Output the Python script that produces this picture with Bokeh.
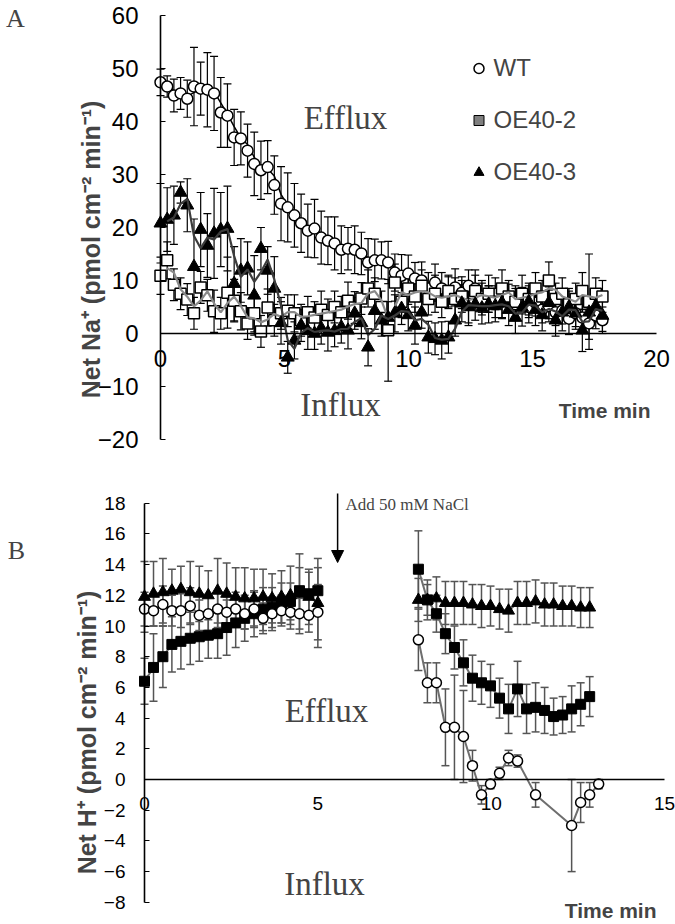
import numpy as np
from bokeh.plotting import figure
from bokeh.models import (ColumnDataSource, Range1d, FixedTicker, Whisker, TeeHead,
                          Label, Legend, LegendItem, Arrow, NormalHead)
from bokeh.layouts import column
from bokeh.embed import file_html
from bokeh.resources import INLINE

# ---------------- Panel A data (Net Na+ flux) ----------------
time_a = [0.00, 0.27, 0.54, 0.81, 1.08, 1.35, 1.62, 1.89, 2.16, 2.43, 2.70, 2.97, 3.24, 3.51,
          3.78, 4.05, 4.32, 4.59, 4.86, 5.13, 5.40, 5.67, 5.94, 6.21, 6.48, 6.75, 7.02, 7.29,
          7.56, 7.83, 8.10, 8.37, 8.64, 8.91, 9.18, 9.45, 9.72, 9.99, 10.26, 10.53, 10.80,
          11.07, 11.34, 11.61, 11.88, 12.15, 12.42, 12.69, 12.96, 13.23, 13.50, 13.77, 14.04,
          14.31, 14.58, 14.85, 15.12, 15.39, 15.66, 15.93, 16.20, 16.47, 16.74, 17.01, 17.28,
          17.55, 17.82]
wt_a = [47.4, 46.6, 44.9, 45.3, 44.3, 46.6, 46.2, 46.0, 45.3, 41.7,
        41.1, 37.0, 36.8, 34.5, 32.0, 30.8, 31.4, 28.0, 24.5, 23.8,
        22.3, 20.8, 19.4, 19.8, 18.1, 17.5, 17.0, 15.8, 16.0, 15.8,
        15.1, 13.4, 13.8, 13.8, 13.4, 11.5, 10.9, 11.3, 10.4, 10.0,
        8.5, 9.6, 8.5, 7.7, 8.7, 7.7, 9.0, 8.5, 7.0, 6.5,
        7.5, 6.0, 6.8, 5.5, 6.2, 5.0, 5.8, 4.5, 5.2, 4.0,
        4.3, 2.8, 3.8, 3.0, 1.9, 3.4, 2.5]
wt_a_err = [2.5, 2.0, 3.1, 3.0, 3.5, 7.4, 5.0, 7.0, 7.0, 6.6,
            6.0, 5.3, 5.0, 5.0, 6.0, 5.5, 5.0, 5.5, 7.0, 6.5,
            6.0, 5.5, 5.0, 5.5, 5.0, 4.5, 5.0, 4.5, 4.0, 4.5,
            4.0, 4.5, 4.0, 3.5, 4.0, 3.5, 4.0, 3.5, 3.0, 3.5,
            3.0, 3.5, 3.0, 3.0, 3.5, 3.0, 3.0, 3.5, 3.0, 2.5,
            3.0, 3.0, 2.5, 3.0, 2.5, 3.0, 2.5, 2.5, 3.0, 2.5,
            2.5, 3.0, 2.5, 2.5, 3.0, 2.5, 2.5]
oe2_a = [10.9, 13.8, 9.2, 7.5, 6.4, 3.8, 8.7, 7.2, 4.2, 3.8,
         7.7, 6.2, 4.2, 1.9, 3.8, 0.4, 4.9, 2.5, 3.8, 4.3,
         3.8, 2.5, 4.0, 3.0, 4.5, 3.5, 5.0, 4.0, 6.2, 4.9,
         6.6, 8.5, 7.5, 5.0, 0.6, 9.6, 6.0, 8.5, 7.0, 9.0,
         6.5, 7.5, 6.0, 8.0, 6.5, 7.0, 5.5, 8.0, 6.5, 7.5,
         6.0, 8.5, 7.0, 6.0, 7.5, 6.5, 8.5, 7.0, 10.0, 6.5,
         7.5, 5.5, 6.5, 8.0, 6.0, 7.5, 7.0]
oe2_a_err = [3.5, 3.5, 3.0, 3.0, 3.0, 3.0, 3.0, 3.0, 4.0, 3.0,
             6.7, 4.0, 3.5, 3.0, 3.5, 3.0, 3.5, 3.0, 3.0, 3.0,
             3.5, 3.0, 3.0, 3.0, 3.5, 3.0, 3.0, 3.0, 3.5, 3.0,
             3.0, 3.5, 3.0, 3.0, 9.6, 3.5, 3.0, 3.0, 3.0, 3.0,
             3.0, 3.5, 3.0, 3.0, 4.0, 3.0, 4.0, 3.0, 3.0, 3.5,
             3.0, 3.5, 3.0, 3.0, 3.5, 3.0, 3.0, 3.0, 3.5, 3.0,
             3.0, 3.0, 3.0, 3.5, 9.0, 3.0, 3.0]
oe3_a = [20.8, 21.5, 22.3, 26.6, 24.2, 12.6, 19.6, 16.6, 18.9, 19.6,
         19.8, 9.4, 11.9, 12.3, 7.2, 16.0, 11.9, 8.5, 2.0, -4.5,
         -1.3, 1.5, 0.5, 0.0, 1.0, 0.2, 0.5, 1.2, 0.6, 3.8,
         2.0, -2.6, 4.3, 2.5, 3.0, 3.8, 4.7, 3.5, 1.5, 4.0,
         -0.7, -1.0, -1.3, -0.7, 2.5, 5.7, 5.0, 5.5, 4.8, 5.5,
         5.2, 5.8, 4.5, 3.0, 4.9, 6.0, 4.5, 3.5, 5.8, 2.5,
         4.0, 5.0, 3.8, 0.6, 4.0, 5.2, 3.4]
oe3_a_err = [7.5, 6.0, 5.5, 2.0, 5.0, 9.0, 7.0, 6.0, 8.5, 7.0,
             8.0, 7.0, 6.0, 5.0, 7.5, 4.0, 4.5, 6.0, 4.0, 3.0,
             3.5, 3.0, 3.5, 3.0, 3.0, 3.5, 3.0, 3.0, 3.5, 3.0,
             3.0, 3.5, 3.5, 3.0, 3.0, 3.5, 3.0, 3.0, 3.5, 3.0,
             3.0, 3.0, 3.5, 3.0, 3.0, 3.5, 3.0, 3.0, 3.0, 3.5,
             3.0, 3.0, 3.0, 3.0, 3.5, 3.0, 3.0, 3.0, 3.0, 3.0,
             3.5, 3.0, 3.0, 4.0, 3.0, 3.0, 3.0]
a_xticks = [0, 5, 10, 15, 20]
a_yticks = [-20, -10, 0, 10, 20, 30, 40, 50, 60]
series_names = ["WT", "OE40-2", "OE40-3"]

# ---------------- Panel B data (Net H+ flux) ----------------
time_b_pre = [0.0, 0.26, 0.53, 0.79, 1.05, 1.32, 1.58, 1.84, 2.11, 2.37,
              2.63, 2.89, 3.16, 3.42, 3.68, 3.95, 4.21, 4.47, 4.74, 5.0]
wt_b_pre = [11.1, 11.0, 11.4, 11.0, 11.0, 11.3, 10.7, 10.8, 11.1, 10.9,
            11.1, 10.8, 11.1, 10.5, 10.8, 11.0, 10.9, 10.8, 10.7, 10.9]
wt_b_pre_err = [1.1, 1.0, 1.2, 1.0, 1.1, 1.2, 1.0, 1.1, 1.2, 1.0,
                1.1, 1.0, 1.1, 1.0, 1.1, 1.0, 1.1, 1.0, 1.1, 1.8]
oe2_b_pre = [6.4, 7.3, 8.0, 8.8, 9.0, 9.2, 9.3, 9.4, 9.5, 9.9,
             10.2, 10.5, 10.8, 11.1, 11.2, 11.5, 11.6, 12.3, 12.1, 12.3]
oe2_b_pre_err = [1.5, 2.2, 2.0, 1.8, 1.8, 1.7, 1.6, 1.5, 1.6, 1.8,
                 1.6, 1.5, 1.5, 1.4, 1.3, 1.3, 1.2, 1.5, 1.4, 1.5]
oe3_b_pre = [11.9, 12.1, 12.2, 12.3, 12.4, 12.2, 12.1, 12.0, 12.3, 12.1,
             11.9, 11.8, 11.8, 11.9, 11.8, 11.9, 12.0, 12.1, 11.9, 11.5]
oe3_b_pre_err = [2.3, 2.1, 2.2, 1.4, 1.5, 2.0, 1.8, 1.6, 2.1, 2.0,
                 1.9, 2.0, 1.9, 1.8, 1.6, 1.7, 1.9, 2.6, 1.8, 2.9]
time_b_post = [7.90, 8.16, 8.42, 8.68, 8.94, 9.20, 9.46, 9.72, 9.98, 10.24,
               10.50, 10.76, 11.02, 11.28, 11.54, 11.80, 12.06, 12.32, 12.58, 12.84]
oe2_b_post = [13.7, 11.7, 10.8, 9.5, 8.6, 7.6, 6.6, 6.3, 6.1, 5.3,
              4.6, 5.9, 4.6, 4.7, 4.5, 4.1, 4.2, 4.6, 4.9, 5.4]
oe2_b_post_err = [2.5, 1.0, 1.2, 1.3, 1.4, 1.5, 1.5, 1.4, 1.4, 1.3,
                  1.6, 1.8, 1.6, 1.6, 1.5, 1.2, 1.2, 1.5, 1.4, 1.3]
oe3_b_post = [11.7, 11.7, 11.8, 11.5, 11.5, 11.5, 11.4, 11.3, 11.3, 11.1,
              11.0, 11.5, 11.5, 11.6, 11.4, 11.4, 11.3, 11.3, 11.2, 11.2]
oe3_b_post_err = [1.4, 1.3, 1.4, 1.4, 1.4, 1.4, 1.3, 1.4, 1.3, 1.3,
                  1.4, 1.4, 1.4, 1.4, 1.4, 1.4, 1.3, 1.3, 1.3, 1.3]
time_b_wt_post = [7.90, 8.16, 8.42, 8.68, 8.94, 9.20, 9.46, 9.72, 9.98, 10.24,
                  10.50, 10.76, 11.28, 12.32, 12.58, 12.84, 13.10]
wt_b_post = [9.1, 6.3, 6.3, 3.4, 3.4, 2.8, 0.9, -1.0, -0.3, 0.4,
             1.4, 1.2, -1.0, -3.0, -1.5, -1.0, -0.3]
wt_b_post_err = [2.0, 1.3, 1.3, 2.5, 3.4, 3.0, 1.0, 0.6, 0.3, 0.4,
                 0.5, 0.4, 0.8, 3.0, 1.3, 0.8, 0.3]
b_xticks = [0, 5, 10, 15]
b_yticks = [-8, -6, -4, -2, 0, 2, 4, 6, 8, 10, 12, 14, 16, 18]
salt_time = 5.57
salt_text = "Add 50 mM NaCl"

# ---------------- layout constants (page pixels) ----------------
SANS = "Liberation Sans"
SERIF = "Liberation Serif"
NARROW = "'Liberation Sans Narrow', 'Liberation Sans'"
W = 675
HA, HB = 458, 466
LEFT = 0            # page x of the canvas left edge
TOP_A = 0
TOP_B = HA
AX0, AXS, AY0, AYS = 160.0, 24.8, 333.0, 5.3
BX0, BXS, BY0, BYS = 144.0, 34.67, 779.0, 15.35


def make_fig(h, top, x0, xs, y0, ys):
    xr = Range1d((LEFT - x0) / xs, (LEFT + W - x0) / xs)
    yr = Range1d((y0 - (top + h)) / ys, (y0 - top) / ys)
    p = figure(width=W, height=h, x_range=xr, y_range=yr, output_backend="svg",
               toolbar_location=None, min_border=0)
    p.min_border_left = p.min_border_right = p.min_border_top = p.min_border_bottom = 0
    p.outline_line_color = None
    p.grid.visible = False
    p.background_fill_color = "white"
    p.border_fill_color = "white"
    return p


def style_axes(p, xt, yt, fs, xstand, ystand, lw):
    xa = p.xaxis[0]
    ya = p.yaxis[0]
    xa.fixed_location = 0
    ya.fixed_location = 0
    xa.bounds = (min(xt), max(xt))
    ya.bounds = (min(yt), max(yt))
    xa.ticker = FixedTicker(ticks=xt)
    ya.ticker = FixedTicker(ticks=yt)
    for axx in (xa, ya):
        axx.axis_line_color = "black"
        axx.axis_line_width = lw
        axx.minor_tick_line_color = None
        axx.major_label_text_font = SANS
        axx.major_label_text_font_size = fs
        axx.major_label_text_color = "black"
        axx.major_tick_out = 0
    xa.major_tick_line_color = None
    xa.major_tick_in = 0
    ya.major_tick_line_color = "black"
    ya.major_tick_line_width = 1.2
    ya.major_tick_in = 5
    xa.major_label_standoff = xstand
    ya.major_label_standoff = ystand


def add_whisker(p, t, v, e, color, lw):
    src = ColumnDataSource(dict(t=t, lo=[a - b for a, b in zip(v, e)],
                                hi=[a + b for a, b in zip(v, e)]))
    w = Whisker(source=src, base="t", upper="hi", lower="lo", dimension="height",
                line_color=color, line_width=lw,
                upper_head=TeeHead(size=8, line_color=color, line_width=lw),
                lower_head=TeeHead(size=8, line_color=color, line_width=lw))
    p.add_layout(w)


def moving_avg(t, v):
    v = np.asarray(v, dtype=float)
    return list(t[1:]), list((v[1:] + v[:-1]) / 2.0)


# ================= Panel A =================
pA = make_fig(HA, TOP_A, AX0, AXS, AY0, AYS)
style_axes(pA, a_xticks, a_yticks, "24px", 16, 22, 1.6)

add_whisker(pA, time_a, wt_a, wt_a_err, "black", 1.2)
add_whisker(pA, time_a, oe2_a, oe2_a_err, "black", 1.2)
add_whisker(pA, time_a, oe3_a, oe3_a_err, "black", 1.2)

srcA = ColumnDataSource(dict(t=time_a, wt=wt_a, oe2=oe2_a, oe3=oe3_a))
mt, mv = moving_avg(time_a, wt_a)
pA.line(mt, mv, line_color="black", line_width=1.5)
pA.scatter("t", "wt", source=srcA, marker="circle", size=11, fill_color="white",
           line_color="black", line_width=1.5)
mt, mv = moving_avg(time_a, oe2_a)
pA.scatter("t", "oe2", source=srcA, marker="square", size=11, fill_color="white",
           line_color="black", line_width=1.5)
pA.line(mt, mv, line_color="#8a8a8a", line_width=2.2)
mt, mv = moving_avg(time_a, oe3_a)
pA.scatter("t", "oe3", source=srcA, marker="triangle", size=13, fill_color="black",
           line_color="black", line_width=1)
pA.line(mt, mv, line_color="#3c3c3c", line_width=2.2)

# legend samples (not plotted: NaN position), so the OE40-2 sample can be grey
nan_src = ColumnDataSource(dict(x=[np.nan], y=[np.nan]))
lg1 = pA.scatter("x", "y", source=nan_src, marker="circle", size=20, fill_color="white",
                 line_color="black", line_width=1.5)
lg2 = pA.scatter("x", "y", source=nan_src, marker="square", size=25, fill_color="#7f7f7f",
                 line_color="black", line_width=1)
lg3 = pA.scatter("x", "y", source=nan_src, marker="triangle", size=25, fill_color="black",
                 line_color="black", line_width=1)
legend = Legend(items=[LegendItem(label=series_names[0], renderers=[lg1]),
                       LegendItem(label=series_names[1], renderers=[lg2]),
                       LegendItem(label=series_names[2], renderers=[lg3])],
                location=(465.5 - LEFT, (TOP_A + HA) - 186), orientation="vertical",
                glyph_width=25, glyph_height=28, label_height=28, spacing=24,
                padding=0, margin=0, label_standoff=3,
                label_text_font=SANS, label_text_font_size="24px",
                border_line_color=None, background_fill_alpha=0.0)
pA.add_layout(legend)


def ax(px):
    return (px - AX0) / AXS


def ay(py):
    return (AY0 - py) / AYS


pA.add_layout(Label(x=ax(15), y=ay(18), text="A", text_font=SERIF, text_font_size="26px",
                    text_align="center", text_baseline="middle"))
pA.add_layout(Label(x=ax(345), y=ay(117), text="Efflux", text_font=SERIF,
                    text_font_size="33px", text_align="center", text_baseline="middle"))
pA.add_layout(Label(x=ax(340), y=ay(404), text="Influx", text_font=SERIF,
                    text_font_size="33px", text_align="center", text_baseline="middle"))
pA.add_layout(Label(x=ax(650), y=ay(410), text="Time min", text_font=NARROW,
                    text_font_style="bold", text_font_size="21px", text_align="right",
                    text_baseline="middle"))
pA.add_layout(Label(x=ax(90), y=ay(249), text="Net Na\u207a (pmol cm\u207b\u00b2 min\u207b\u00b9)",
                    text_font=SANS, text_font_style="bold", text_font_size="25px",
                    angle=np.pi / 2, text_align="center", text_baseline="middle"))

# ================= Panel B =================
pB = make_fig(HB, TOP_B, BX0, BXS, BY0, BYS)
style_axes(pB, b_xticks, b_yticks, "19px", 17, 19, 1.6)

GREY = "#555555"
LINEG = "#6e6e6e"
for t, v, e in [(time_b_pre, wt_b_pre, wt_b_pre_err), (time_b_pre, oe2_b_pre, oe2_b_pre_err),
                (time_b_pre, oe3_b_pre, oe3_b_pre_err), (time_b_wt_post, wt_b_post, wt_b_post_err),
                (time_b_post, oe2_b_post, oe2_b_post_err), (time_b_post, oe3_b_post, oe3_b_post_err)]:
    add_whisker(pB, t, v, e, GREY, 1.5)

for t, v in [(time_b_pre, wt_b_pre), (time_b_pre, oe2_b_pre), (time_b_pre, oe3_b_pre),
             (time_b_wt_post, wt_b_post), (time_b_post, oe2_b_post), (time_b_post, oe3_b_post)]:
    pB.line(t, v, line_color=LINEG, line_width=2)

pB.scatter(time_b_pre, oe3_b_pre, marker="triangle", size=12, fill_color="black", line_color="black")
pB.scatter(time_b_post, oe3_b_post, marker="triangle", size=12, fill_color="black", line_color="black")
pB.scatter(time_b_pre, oe2_b_pre, marker="square", size=10, fill_color="black", line_color="black")
pB.scatter(time_b_post, oe2_b_post, marker="square", size=10, fill_color="black", line_color="black")
pB.scatter(time_b_pre, wt_b_pre, marker="circle", size=10, fill_color="white",
           line_color="black", line_width=1.5)
pB.scatter(time_b_wt_post, wt_b_post, marker="circle", size=10, fill_color="white",
           line_color="black", line_width=1.5)


def bx(px):
    return (px - BX0) / BXS


def by(py):
    return (BY0 - py) / BYS


pB.add_layout(Arrow(x_start=salt_time, y_start=by(493), x_end=salt_time, y_end=by(562),
                    line_color="black", line_width=1.5,
                    end=NormalHead(size=12, fill_color="black", line_color="black")))
pB.add_layout(Label(x=bx(345), y=by(504), text=salt_text, text_font=SERIF,
                    text_font_size="17px", text_align="left", text_baseline="middle"))
pB.add_layout(Label(x=bx(16), y=by(550), text="B", text_font=SERIF, text_font_size="26px",
                    text_align="center", text_baseline="middle"))
pB.add_layout(Label(x=bx(326), y=by(710), text="Efflux", text_font=SERIF,
                    text_font_size="33px", text_align="center", text_baseline="middle"))
pB.add_layout(Label(x=bx(324), y=by(883), text="Influx", text_font=SERIF,
                    text_font_size="33px", text_align="center", text_baseline="middle"))
pB.add_layout(Label(x=bx(656), y=by(910), text="Time min", text_font=NARROW,
                    text_font_style="bold", text_font_size="21px", text_align="right",
                    text_baseline="middle"))
pB.add_layout(Label(x=bx(86), y=by(732), text="Net H\u207a (pmol cm\u207b\u00b2 min\u207b\u00b9)",
                    text_font=SANS, text_font_style="bold", text_font_size="25px",
                    angle=np.pi / 2, text_align="center", text_baseline="middle"))

layout = column(pA, pB, spacing=0)
open("out.html", "w").write(file_html(layout, INLINE))
